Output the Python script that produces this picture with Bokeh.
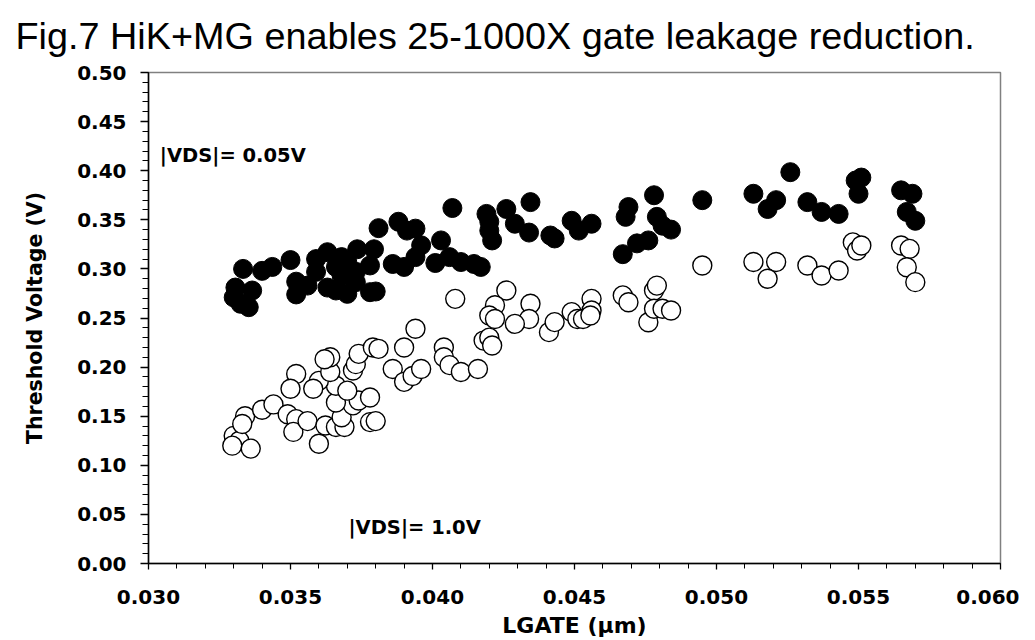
from bokeh.plotting import figure
from bokeh.models import Range1d, SingleIntervalTicker, PrintfTickFormatter, Label
from bokeh.embed import file_html
from bokeh.resources import INLINE

# |VDS| = 0.05 V (filled)
lg_lin = [0.03306, 0.03365, 0.0330, 0.03324, 0.03353, 0.03333, 0.0340, 0.03436, 0.0350,
          0.0352, 0.0356, 0.0352, 0.0359, 0.0363, 0.0359, 0.0368, 0.0370, 0.0366, 0.0373,
          0.0368, 0.0363, 0.0366, 0.0370, 0.0373, 0.0378, 0.0380, 0.03735, 0.03794, 0.0378,
          0.0386, 0.0390, 0.0394, 0.0396, 0.0381, 0.0388, 0.0391, 0.0394, 0.0403, 0.0401,
          0.0406, 0.0410, 0.04146, 0.0417, 0.0407, 0.0419, 0.0426, 0.04345, 0.0420, 0.0420,
          0.0421, 0.0429, 0.0434, 0.04415, 0.0443, 0.0449, 0.04515, 0.0456, 0.0467, 0.0469,
          0.0468, 0.0472, 0.0476, 0.0478, 0.0479, 0.0481, 0.0484, 0.0495, 0.0526, 0.0513,
          0.0521, 0.0518, 0.0532, 0.0537, 0.0543, 0.0549, 0.0551, 0.0550, 0.0565, 0.0569,
          0.0567, 0.0570]
vt_lin = [0.281, 0.278, 0.271, 0.2645, 0.261, 0.300, 0.298, 0.302, 0.309,
          0.287, 0.283, 0.274, 0.310, 0.317, 0.297, 0.312, 0.307, 0.302, 0.297,
          0.293, 0.281, 0.278, 0.2746, 0.2865, 0.2763, 0.277, 0.320, 0.320, 0.3035,
          0.305, 0.302, 0.312, 0.324, 0.3415, 0.348, 0.339, 0.341, 0.329, 0.306,
          0.312, 0.307, 0.305, 0.302, 0.362, 0.356, 0.361, 0.368, 0.348, 0.339,
          0.329, 0.346, 0.337, 0.334, 0.331, 0.349, 0.339, 0.346, 0.315, 0.363,
          0.353, 0.326, 0.329, 0.375, 0.353, 0.344, 0.340, 0.370, 0.3985, 0.3765,
          0.370, 0.361, 0.368, 0.358, 0.356, 0.390, 0.393, 0.3765, 0.380, 0.3765,
          0.358, 0.349]

# |VDS| = 1.0 V (open)
lg_sat = [0.0330, 0.0332, 0.03295, 0.0336, 0.0334, 0.0333, 0.0340, 0.0344, 0.0349, 0.0352,
          0.0351, 0.0356, 0.0360, 0.03623, 0.0366, 0.0369, 0.0368, 0.0378, 0.0380, 0.0372,
          0.0374, 0.0378, 0.0366, 0.0366, 0.0370, 0.0360, 0.0358, 0.0352, 0.0350, 0.0364,
          0.0372, 0.0373, 0.0364, 0.0362, 0.0374, 0.0379, 0.0381, 0.0390, 0.0394, 0.0386,
          0.0390, 0.0393, 0.0396, 0.0404, 0.0404, 0.0406, 0.0410, 0.0416, 0.0418, 0.0420,
          0.0421, 0.0408, 0.0426, 0.0422, 0.0420, 0.0422, 0.04345, 0.0434, 0.0429, 0.0441,
          0.0443, 0.0449, 0.0451, 0.0453, 0.0456, 0.0456, 0.04556, 0.0467, 0.0469, 0.0478,
          0.0479, 0.0476, 0.0478, 0.0481, 0.0484, 0.0495, 0.0513, 0.0521, 0.0518, 0.0532,
          0.0537, 0.0543, 0.0548, 0.05495, 0.0551, 0.0565, 0.0568, 0.0567, 0.0570]
vt_sat = [0.130, 0.125, 0.120, 0.117, 0.150, 0.142, 0.1565, 0.162, 0.152, 0.147,
          0.134, 0.145, 0.122, 0.1405, 0.139, 0.139, 0.149, 0.144, 0.145, 0.161,
          0.166, 0.169, 0.164, 0.181, 0.176, 0.186, 0.178, 0.193, 0.178, 0.195,
          0.1965, 0.203, 0.210, 0.208, 0.2135, 0.220, 0.2186, 0.220, 0.239, 0.198,
          0.185, 0.191, 0.198, 0.220, 0.210, 0.202, 0.195, 0.198, 0.227, 0.230,
          0.222, 0.2695, 0.278, 0.263, 0.2525, 0.249, 0.2645, 0.249, 0.244, 0.2356,
          0.2458, 0.256, 0.249, 0.249, 0.2695, 0.2576, 0.2525, 0.273, 0.266, 0.278,
          0.283, 0.2457, 0.2594, 0.2594, 0.2576, 0.3035, 0.307, 0.307, 0.290, 0.3035,
          0.2933, 0.2984, 0.327, 0.3187, 0.3238, 0.3238, 0.3204, 0.3017, 0.2865]

title_text = "Fig.7 HiK+MG enables 25-1000X gate leakage reduction."
x_label = "LGATE (\u03bcm)"
y_label = "Threshold Voltage (V)"
note_lin = "|VDS|= 0.05V"
note_sat = "|VDS|= 1.0V"

p = figure(width=1019, height=640, output_backend="svg", toolbar_location=None,
           x_range=Range1d(0.030, 0.060), y_range=Range1d(0.0, 0.50),
           min_border_left=148, min_border_right=19, min_border_top=72, min_border_bottom=77,
           title=title_text)
p.title.text_font = "Liberation Sans, Arial, sans-serif"
p.title.text_font_size = "37.8px"
p.title.text_font_style = "normal"
p.title.align = "left"
p.title.vertical_align = "top"
p.title.offset = -133
p.title.text_color = "black"
try:
    p.title.standoff = 27
except Exception:
    pass

p.grid.visible = False
p.outline_line_color = "#808080"
p.outline_line_width = 1.5
p.background_fill_color = "white"
p.border_fill_color = "white"

p.xaxis.ticker = SingleIntervalTicker(interval=0.005, num_minor_ticks=5)
p.yaxis.ticker = SingleIntervalTicker(interval=0.05, num_minor_ticks=5)
p.xaxis.formatter = PrintfTickFormatter(format="%.3f")
p.yaxis.formatter = PrintfTickFormatter(format="%.2f")

for ax in (p.xaxis, p.yaxis):
    ax.axis_line_color = "black"
    ax.axis_line_width = 1.5
    ax.major_tick_line_color = "black"
    ax.minor_tick_line_color = "black"
    ax.major_tick_line_width = 1.3
    ax.minor_tick_line_width = 1.0
    ax.major_tick_in = 0
    ax.minor_tick_in = 0
    ax.major_label_text_font = "DejaVu Sans"
    ax.major_label_text_font_style = "bold"
    ax.major_label_text_font_size = "20px"
    ax.major_label_text_color = "black"
    ax.axis_label_text_font = "DejaVu Sans"
    ax.axis_label_text_font_style = "bold"
    ax.axis_label_text_color = "black"

p.xaxis.axis_label_text_font_size = "22px"
p.yaxis.axis_label_text_font_size = "20.5px"
p.xaxis.major_tick_out = 6
p.xaxis.minor_tick_out = 5
p.yaxis.major_tick_out = 8
p.yaxis.minor_tick_out = 6
p.xaxis.major_label_standoff = 20
p.yaxis.major_label_standoff = 14
p.xaxis.axis_label = x_label
p.yaxis.axis_label = y_label
p.xaxis.axis_label_standoff = 6
p.yaxis.axis_label_standoff = 27

p.scatter(lg_lin, vt_lin, size=19, marker="circle", fill_color="black", line_color="black")
p.scatter(lg_sat, vt_sat, size=19, marker="circle", fill_color="white", line_color="black",
          line_width=1.4)

p.add_layout(Label(x=0.0304, y=0.415, text=note_lin, text_font="DejaVu Sans",
                   text_font_style="bold", text_font_size="19.5px", text_baseline="middle",
                   text_color="black"))
p.add_layout(Label(x=0.03704, y=0.0367, text=note_sat, text_font="DejaVu Sans",
                   text_font_style="bold", text_font_size="19.5px", text_baseline="middle",
                   text_color="black"))

open("out.html", "w").write(file_html(p, INLINE))
